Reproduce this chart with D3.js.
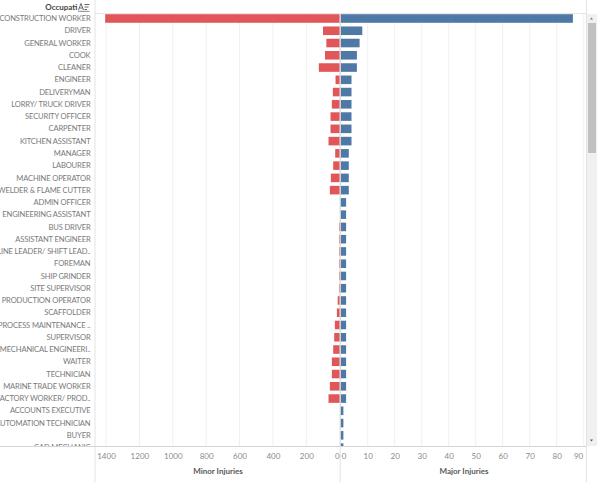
<!DOCTYPE html>
<html><head><meta charset="utf-8">
<script src="https://cdn.jsdelivr.net/npm/d3@7"></script>
<style>
html,body{margin:0;padding:0;background:#fff;}
svg{display:block;font-family:Lato,"Open Sans",sans-serif;}
</style></head><body>
<script>
const occupations = ["CONSTRUCTION WORKER","DRIVER","GENERAL WORKER","COOK","CLEANER","ENGINEER","DELIVERYMAN","LORRY/ TRUCK DRIVER","SECURITY OFFICER","CARPENTER","KITCHEN ASSISTANT","MANAGER","LABOURER","MACHINE OPERATOR","WELDER & FLAME CUTTER","ADMIN OFFICER","ENGINEERING ASSISTANT","BUS DRIVER","ASSISTANT ENGINEER","LINE LEADER/ SHIFT LEAD..","FOREMAN","SHIP GRINDER","SITE SUPERVISOR","PRODUCTION OPERATOR","SCAFFOLDER","PROCESS MAINTENANCE ..","SUPERVISOR","MECHANICAL ENGINEERI..","WAITER","TECHNICIAN","MARINE TRADE WORKER","FACTORY WORKER/ PROD..","ACCOUNTS EXECUTIVE","AUTOMATION TECHNICIAN","BUYER","CAD MECHANIC"];
const minorInjuries = [1405,100,80,88,125,25,41,47,55,55,67,27,39,53,59,0,0,4,4,4,4,4,4,12,17,29,33,39,47,47,59,67,0,0,0,0];
const majorInjuries = [86,8,7,6,6,4,4,4,4,4,4,3,3,3,3,2,2,2,2,2,2,2,2,2,2,2,2,2,2,2,2,2,1,1,1,1];
const minorTicks = [0,200,400,600,800,1000,1200,1400];
const majorTicks = [0,10,20,30,40,50,60,70,80,90];
const headerLabel = "Occupati";
const minorTitle = "Minor Injuries";
const majorTitle = "Major Injuries";

const W = 600, H = 482;
const RED = "#e15759", BLUE = "#4e79a7";
const divX = 95, paneL0 = 96, paneMid = 340, paneR1 = 586;
const topY = 13, axisY = 446;

const svg = d3.select("body").append("svg").attr("width", W).attr("height", H);

const xL = d3.scaleLinear().domain([0, 1400]).range([339.7, 106]);
const xR = d3.scaleLinear().domain([0, 90]).range([340.7, 583.7]);
const step = 12.26;
const y = d3.scaleBand().domain(occupations)
  .range([10.53, 10.53 + step * (occupations.length + 0.3)]).padding(0.3);

svg.append("clipPath").attr("id", "clip").append("rect")
  .attr("x", 0).attr("y", topY + 0.5).attr("width", paneR1).attr("height", axisY - topY - 0.5);

// gridlines
const grid = svg.append("g");
grid.selectAll(".gl").data(minorTicks.filter(d => d > 0)).join("line")
  .attr("x1", d => xL(d)).attr("x2", d => xL(d)).attr("y1", topY).attr("y2", axisY)
  .attr("stroke", "#f0f0f0").attr("stroke-width", 1);
grid.selectAll(".gr").data(majorTicks.filter(d => d > 0)).join("line")
  .attr("x1", d => xR(d)).attr("x2", d => xR(d)).attr("y1", topY).attr("y2", axisY)
  .attr("stroke", "#f0f0f0").attr("stroke-width", 1);

// bars
const bars = svg.append("g").attr("clip-path", "url(#clip)");
bars.selectAll(".bl").data(occupations).join("rect")
  .attr("x", (d, i) => xL(minorInjuries[i]))
  .attr("width", (d, i) => xL(0) - xL(minorInjuries[i]))
  .attr("y", d => y(d)).attr("height", y.bandwidth())
  .attr("fill", RED);
bars.selectAll(".br").data(occupations).join("rect")
  .attr("x", xR(0))
  .attr("width", (d, i) => xR(majorInjuries[i]) - xR(0))
  .attr("y", d => y(d)).attr("height", y.bandwidth())
  .attr("fill", BLUE);

svg.append("line").attr("x1", 340.2).attr("x2", 340.2).attr("y1", topY).attr("y2", axisY)
  .attr("stroke", "#cfcfcf").attr("stroke-width", 1);

// row labels
const labels = svg.append("g").attr("clip-path", "url(#clip)");
labels.selectAll("text").data(occupations).join("text")
  .attr("x", 90.5).attr("y", d => y(d) + y.bandwidth() / 2)
  .attr("dy", "0.35em").attr("text-anchor", "end")
  .attr("font-size", 7.6).attr("letter-spacing", -0.15).attr("fill", "#7a7a7a")
  .text(d => d);

// frame lines
svg.append("line").attr("x1", divX).attr("x2", divX).attr("y1", 0).attr("y2", H).attr("stroke", "#e3e3e3");
svg.append("line").attr("x1", paneR1 + 0.5).attr("x2", paneR1 + 0.5).attr("y1", 0).attr("y2", H).attr("stroke", "#e3e3e3");
svg.append("line").attr("x1", divX).attr("x2", paneR1).attr("y1", topY + 0.5).attr("y2", topY + 0.5).attr("stroke", "#e6e6e6");
svg.append("line").attr("x1", 0).attr("x2", paneR1).attr("y1", axisY + 0.5).attr("y2", axisY + 0.5).attr("stroke", "#d6d6d6");
svg.append("line").attr("x1", 340.2).attr("x2", 340.2).attr("y1", axisY).attr("y2", H).attr("stroke", "#e3e3e3");

// axes
const fmt = d3.format("d");
const axL = svg.append("g").attr("transform", `translate(0,${axisY})`)
  .call(d3.axisBottom(xL).tickValues(minorTicks).tickFormat(fmt).tickSize(0).tickPadding(7));
const axR = svg.append("g").attr("transform", `translate(0,${axisY})`)
  .call(d3.axisBottom(xR).tickValues(majorTicks).tickFormat(fmt).tickSize(0).tickPadding(7));
[axL, axR].forEach(a => {
  a.select(".domain").remove();
  a.selectAll("text").attr("font-size", 8).attr("fill", "#8a8a8a").attr("font-family", "Lato, sans-serif");
});
axL.selectAll(".tick").filter(d => d === 0).select("text").attr("text-anchor", "end").attr("x", -0.5);
axR.selectAll(".tick").filter(d => d === 0).select("text").attr("text-anchor", "start").attr("x", 0.5);
axR.selectAll(".tick").filter(d => d === 90).select("text").attr("text-anchor", "end").attr("x", -1);

svg.append("text").attr("x", (paneL0 + paneMid) / 2).attr("y", 474).attr("text-anchor", "middle")
  .attr("font-size", 8).attr("font-weight", 700).attr("fill", "#5a5a5a").text(minorTitle);
svg.append("text").attr("x", (paneMid + paneR1) / 2 + 1).attr("y", 474).attr("text-anchor", "middle")
  .attr("font-size", 8).attr("font-weight", 700).attr("fill", "#5a5a5a").text(majorTitle);

// header
svg.append("text").attr("x", 77.5).attr("y", 10).attr("text-anchor", "end")
  .attr("font-size", 8).attr("font-weight", 700).attr("fill", "#444").text(headerLabel);
const ic = svg.append("g").attr("stroke", "#555").attr("stroke-width", 0.9).attr("fill", "none");
ic.append("path").attr("d", "M78.5,10 L81,3.5 L83.5,10 M79.5,8 L82.5,8");
ic.append("path").attr("d", "M84.5,4.5 L89.5,4.5 M84.5,7 L88.5,7 M84.5,9.5 L87,9.5");
ic.append("path").attr("d", "M78,11.3 L89.5,11.3").attr("stroke-width", 0.7);

// scrollbar
svg.append("rect").attr("x", 587).attr("y", 14).attr("width", 10).attr("height", 432).attr("fill", "#f0f0f0");
svg.append("rect").attr("x", 588).attr("y", 23).attr("width", 8).attr("height", 130).attr("fill", "#c1c1c1");
svg.append("path").attr("d", "M590,19.5 L593,19.5 L591.5,17.5 Z").attr("fill", "#777");
svg.append("path").attr("d", "M590,439.5 L593,439.5 L591.5,441.5 Z").attr("fill", "#555");
</script>
</body></html>
